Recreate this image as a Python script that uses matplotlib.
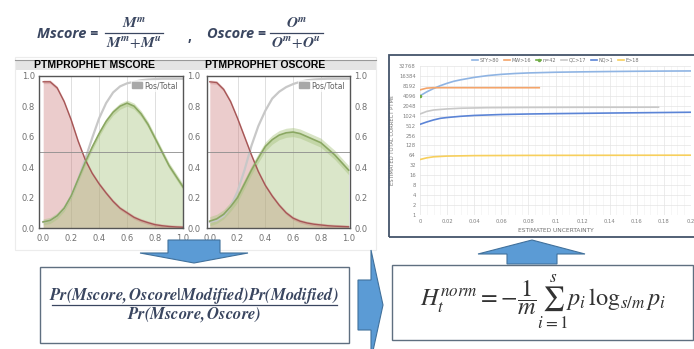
import matplotlib
matplotlib.use("Agg")
import matplotlib.pyplot as plt
from matplotlib.patches import Polygon, Rectangle, Patch
from matplotlib.lines import Line2D
from matplotlib.ticker import FixedLocator, NullFormatter

plt.rcParams['mathtext.fontset'] = 'stix'

W, H = 694, 349

# --- PTMProphet score densities (x = score) ---
score_x = [0.0, 0.05, 0.1, 0.15, 0.2, 0.25, 0.3, 0.35, 0.4, 0.45, 0.5,
           0.55, 0.6, 0.65, 0.7, 0.75, 0.8, 0.85, 0.9, 0.95, 1.0]
m_unmod = [0.96, 0.96, 0.92, 0.83, 0.71, 0.57, 0.45, 0.36, 0.29, 0.23, 0.175,
           0.13, 0.10, 0.07, 0.05, 0.035, 0.022, 0.015, 0.01, 0.007, 0.005]
m_mod = [0.04, 0.05, 0.08, 0.13, 0.21, 0.32, 0.43, 0.53, 0.62, 0.70, 0.76,
         0.80, 0.82, 0.80, 0.75, 0.68, 0.59, 0.50, 0.41, 0.34, 0.27]
m_pos = [0.04, 0.05, 0.08, 0.13, 0.21, 0.32, 0.45, 0.59, 0.72, 0.82, 0.89,
         0.93, 0.95, 0.96, 0.97, 0.975, 0.978, 0.98, 0.98, 0.98, 0.98]
o_unmod = [0.96, 0.955, 0.91, 0.83, 0.72, 0.60, 0.48, 0.37, 0.28, 0.21, 0.15,
           0.10, 0.065, 0.045, 0.033, 0.025, 0.02, 0.015, 0.012, 0.01, 0.008]
o_mod = [0.045, 0.06, 0.09, 0.14, 0.20, 0.29, 0.38, 0.46, 0.535, 0.58, 0.61,
         0.625, 0.63, 0.62, 0.60, 0.58, 0.56, 0.52, 0.48, 0.43, 0.38]
o_pos = [0.04, 0.05, 0.08, 0.14, 0.24, 0.38, 0.54, 0.67, 0.77, 0.85, 0.895,
         0.925, 0.945, 0.96, 0.97, 0.975, 0.978, 0.98, 0.98, 0.98, 0.98]
m_band = 0.02
o_band = 0.03

# --- estimated correct PTMs vs uncertainty ---
sty_x = [0, 0.005, 0.01, 0.015, 0.02, 0.025, 0.03, 0.04, 0.05, 0.06, 0.07, 0.08,
         0.1, 0.12, 0.14, 0.16, 0.18, 0.2]
sty_y = [4096, 5400, 6800, 8300, 9800, 11300, 12500, 14800, 16800, 18300, 19400,
         20200, 21200, 21800, 22300, 22700, 23000, 23200]
mw_x = [0, 0.005, 0.01, 0.02, 0.04, 0.06, 0.088]
mw_y = [6200, 7000, 7200, 7200, 7200, 7200, 7200]
n42_x = [0]
n42_y = [4096]
qc_x = [0, 0.005, 0.01, 0.02, 0.03, 0.05, 0.08, 0.12, 0.176]
qc_y = [1150, 1380, 1520, 1640, 1720, 1790, 1820, 1840, 1850]
nq_x = [0, 0.005, 0.01, 0.015, 0.02, 0.03, 0.04, 0.06, 0.08, 0.1, 0.14, 0.2]
nq_y = [560, 660, 760, 850, 900, 980, 1040, 1110, 1150, 1180, 1230, 1300]
e_x = [0, 0.005, 0.01, 0.02, 0.04, 0.08, 0.2]
e_y = [48, 54, 58, 61, 63, 64, 65]
series_names = ['STY>80', 'MW>16', 'n=42', 'QC>17', 'NQ>1', 'E>18']
log_ticks = [1, 2, 4, 8, 16, 32, 64, 128, 256, 512, 1024, 2048, 4096, 8192, 16384, 32768]
unc_ticks = [0, 0.02, 0.04, 0.06, 0.08, 0.1, 0.12, 0.14, 0.16, 0.18, 0.2]


def box(x0, y0, x1, y1):
    # pixel box (top-left origin) -> figure fraction rect
    return [x0 / W, 1 - y1 / H, (x1 - x0) / W, (y1 - y0) / H]


def fpt(x, y):
    return (x / W, 1 - y / H)


fig = plt.figure(figsize=(W / 100, H / 100), dpi=100)
navy = '#3a4660'
arrow_fc = '#5b9bd5'
arrow_ec = '#41719c'

# panel frame + title bar
fig.add_artist(Rectangle(fpt(15, 250), 361 / W, 193 / H, transform=fig.transFigure,
                         fc='none', ec='#ececec', lw=0.8))
fig.add_artist(Rectangle(fpt(15, 70), 361 / W, 10 / H, transform=fig.transFigure,
                         fc='#e4e4e4', ec='none', zorder=-1))
fig.add_artist(Line2D([15 / W, 376 / W], [1 - 60 / H] * 2, transform=fig.transFigure,
                      color='#999999', lw=0.8))
fig.text(95 / W, 1 - 65.5 / H, 'PTMPROPHET MSCORE', ha='center', va='center',
         fontsize=7.5, fontweight='bold', family='Liberation Sans')
fig.text(265 / W, 1 - 65.5 / H, 'PTMPROPHET OSCORE', ha='center', va='center',
         fontsize=7.5, fontweight='bold', family='Liberation Sans')


def score_panel(rect, xlim, unmod, mod, pos, band, left_labels):
    ax = fig.add_axes(rect)
    ax.set_xlim(*xlim)
    ax.set_ylim(0, 1)
    ax.fill_between(score_x, 0, unmod, color='#c86e6e', alpha=0.35, lw=0)
    ax.fill_between(score_x, 0, mod, color='#a9c47f', alpha=0.42, lw=0)
    ax.fill_between(score_x, [v - band for v in mod], [v + band for v in mod],
                    color='#a9c47f', alpha=0.45, lw=0)
    ax.fill_between(score_x, [v - 0.012 for v in unmod], [v + 0.012 for v in unmod],
                    color='#c86e6e', alpha=0.3, lw=0)
    ax.plot(score_x, pos, color='#c8c8c8', lw=1.6)
    ax.plot(score_x, unmod, color='#a65656', lw=1.0)
    ax.plot(score_x, mod, color='#8aa762', lw=1.2)
    for g in [0.2, 0.4, 0.6, 0.8]:
        ax.axvline(g, color='#dedede', lw=0.7, zorder=0)
    ax.axhline(0.5, color='#8c8c8c', lw=0.6)
    ax.set_xticks([0, 0.2, 0.4, 0.6, 0.8, 1.0])
    ax.set_xticklabels(['0.0', '0.2', '0.4', '0.6', '0.8', '1.0'])
    ax.set_yticks([0, 0.2, 0.4, 0.6, 0.8, 1.0])
    ax.set_yticklabels(['0.0', '0.2', '0.4', '0.6', '0.8', '1.0'])
    ax.tick_params(length=0, labelsize=6, labelcolor='#707070', pad=4)
    ax.tick_params(axis='y', left=False, labelleft=left_labels, right=False,
                   labelright=True, pad=3)
    for s in ax.spines.values():
        s.set_color('#555555')
        s.set_linewidth(1.0)
    ax.legend(handles=[Patch(color='#a8a8a8')], labels=['Pos/Total'], loc='upper right',
              fontsize=5.5, frameon=True, framealpha=0.7, edgecolor='none',
              handlelength=1.2, handleheight=0.8, handletextpad=0.3,
              borderpad=0.2, labelcolor='#606060')
    return ax


score_panel(box(39, 75.7, 183, 228), (-0.03, 1.0), m_unmod, m_mod, m_pos, m_band, True)
score_panel(box(207, 75.7, 350, 228), (-0.02, 1.01), o_unmod, o_mod, o_pos, o_band, False)

# top formulas
fig.text(37 / W, 1 - 34 / H, 'Mscore =', fontsize=10.5, fontweight='bold', style='italic',
         family='Open Sans', color=navy, va='center', ha='left')
fig.text(207 / W, 1 - 34 / H, 'Oscore =', fontsize=10.5, fontweight='bold', style='italic',
         family='Open Sans', color=navy, va='center', ha='left')
fig.text(190 / W, 1 - 37 / H, ',', fontsize=10, fontweight='bold', family='Open Sans',
         color=navy, va='center', ha='center')


def fraction(xc, ybar, x0, x1, num, den, size, color, gap=10):
    fig.text(xc / W, 1 - (ybar - gap) / H, num, fontsize=size, color=color,
             ha='center', va='center')
    fig.text(xc / W, 1 - (ybar + gap) / H, den, fontsize=size, color=color,
             ha='center', va='center')
    fig.add_artist(Line2D([x0 / W, x1 / W], [1 - ybar / H] * 2, transform=fig.transFigure,
                          color=color, lw=0.9))


fraction(134, 33, 105, 163, r'$\mathbfit{M}^{\mathbfit{m}}$',
         r'$\mathbfit{M}^{\mathbfit{m}}\!+\!\mathbfit{M}^{\mathbfit{u}}$', 11, navy)
fraction(296, 33, 270, 323, r'$\mathbfit{O}^{\mathbfit{m}}$',
         r'$\mathbfit{O}^{\mathbfit{m}}\!+\!\mathbfit{O}^{\mathbfit{u}}$', 11, navy)

# log2 chart of estimated correct PTMs
fig.add_artist(Rectangle(fpt(389, 237), 308 / W, 182 / H, transform=fig.transFigure,
                         fc='none', ec='#44546a', lw=1.3))
ax3 = fig.add_axes(box(420, 66, 691, 215))
ax3.set_yscale('log', base=2)
ax3.set_ylim(1, 32768)
ax3.set_xlim(0, 0.2)
ax3.plot(sty_x, sty_y, color='#8fb4e3', lw=1.2, label=series_names[0])
ax3.plot(mw_x, mw_y, color='#f4a46a', lw=1.2, label=series_names[1])
ax3.plot(n42_x, n42_y, color='#70ad47', lw=1.2, marker='o', ms=1.5, label=series_names[2])
ax3.plot(qc_x, qc_y, color='#c8c8c8', lw=1.2, label=series_names[3])
ax3.plot(nq_x, nq_y, color='#5b84d6', lw=1.2, label=series_names[4])
ax3.plot(e_x, e_y, color='#f7cf5c', lw=1.2, label=series_names[5])
ax3.yaxis.set_major_locator(FixedLocator(log_ticks))
ax3.yaxis.set_minor_formatter(NullFormatter())
ax3.set_yticklabels([str(t) for t in log_ticks])
ax3.set_xticks(unc_ticks)
ax3.set_xticklabels(['0', '0.02', '0.04', '0.06', '0.08', '0.1', '0.12', '0.14',
                     '0.16', '0.18', '0.2'])
ax3.set_xticks([i * 0.005 for i in range(41)], minor=True)
ax3.grid(True, which='major', color='#e4e4e4', lw=0.5)
ax3.grid(True, which='minor', axis='x', color='#f0f0f0', lw=0.4)
ax3.tick_params(which='both', length=0, labelsize=3.8, labelcolor='#808080', pad=3)
for s in ax3.spines.values():
    s.set_visible(False)
ax3.set_xlabel('ESTIMATED UNCERTAINTY', fontsize=4.2, color='#707070', labelpad=3)
ax3.set_ylabel('ESTIMATED TOTAL CORRECT PTMs', fontsize=3.8, color='#707070', labelpad=3)
ax3.legend(loc='lower center', bbox_to_anchor=(0.5, 1.0), ncol=6, fontsize=3.5,
           frameon=False, handlelength=1.2, handletextpad=0.3, columnspacing=1.0,
           labelcolor='#707070', borderaxespad=0.3)

# arrows
def arrow(pts):
    fig.add_artist(Polygon([fpt(x, y) for x, y in pts], closed=True,
                           transform=fig.transFigure, fc=arrow_fc, ec=arrow_ec, lw=0.8))


arrow([(168, 240), (220, 240), (220, 253), (248, 253), (194, 263), (140, 253), (168, 253)])
arrow([(507, 264), (557, 264), (557, 254), (585, 254), (532, 240), (478, 254), (507, 254)])
arrow([(358, 280), (371, 280), (371, 250), (383, 305), (371, 360), (371, 330), (358, 330)])

# formula boxes
fig.add_artist(Rectangle(fpt(40, 343), 309 / W, 76 / H, transform=fig.transFigure,
                         fc='none', ec='#5f6f80', lw=1.0))
fig.add_artist(Rectangle(fpt(392, 340), 301 / W, 75 / H, transform=fig.transFigure,
                         fc='none', ec='#5f6f80', lw=1.0))
fraction(194, 305, 52, 337,
         r'$\mathbfit{Pr(Mscore,Oscore|Modified)Pr(Modified)}$',
         r'$\mathbfit{Pr(Mscore,Oscore)}$', 12, navy, gap=10)
fig.text(543 / W, 1 - 302 / H,
         r'$H_t^{norm} = -\dfrac{1}{m}\sum_{i=1}^{s} p_i\,\log_{s/m} p_i$',
         fontsize=17.5, color='#333333', ha='center', va='center')

fig.savefig('out.png', dpi=100)
